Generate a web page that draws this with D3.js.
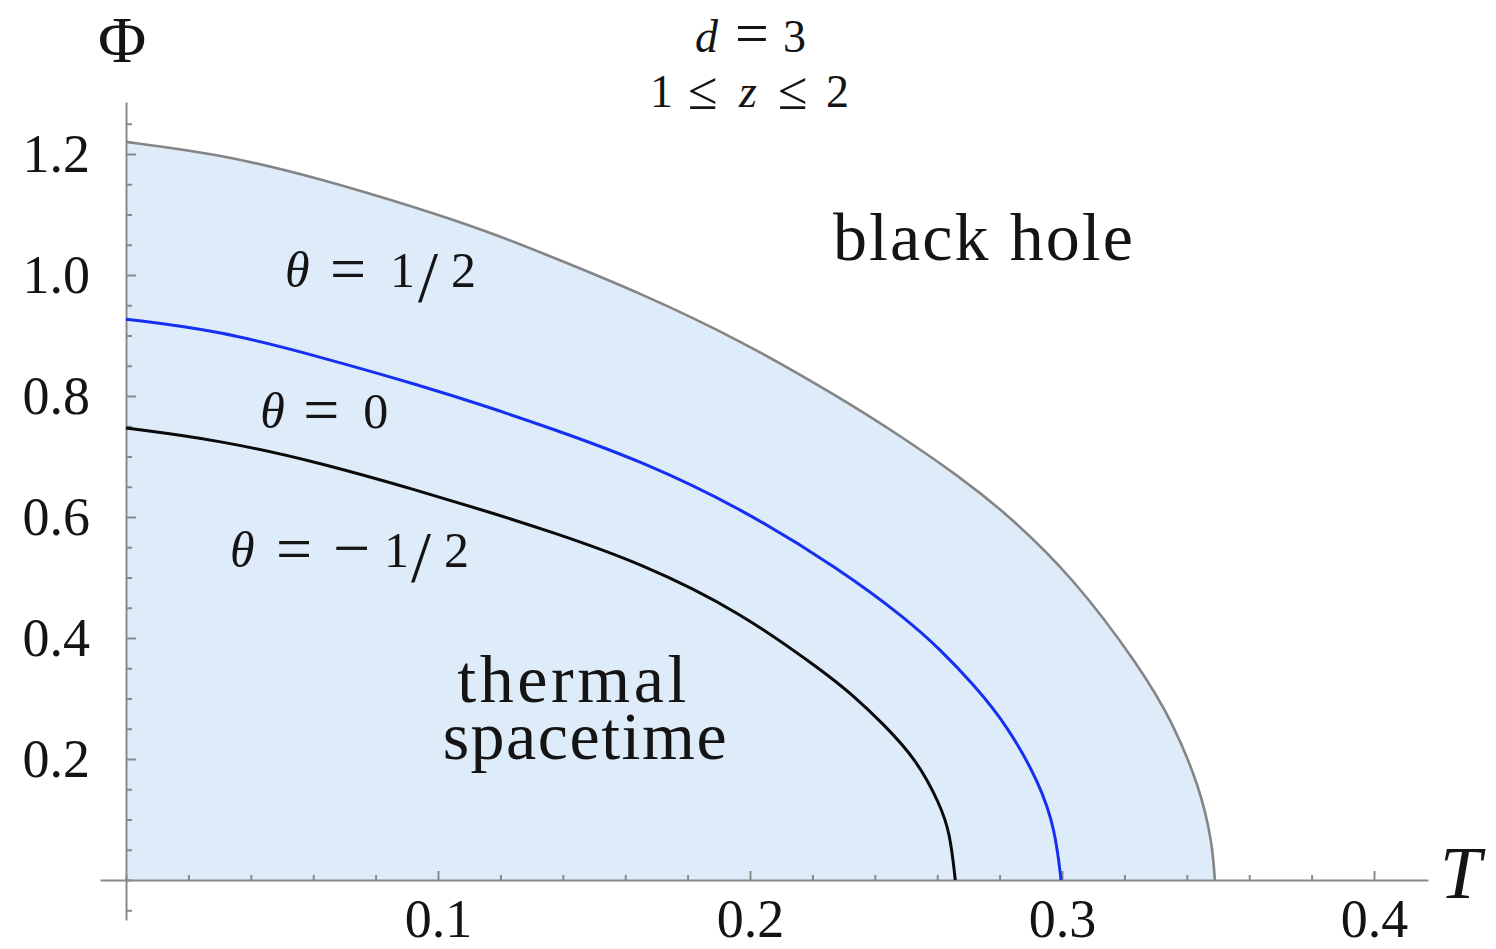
<!DOCTYPE html>
<html>
<head>
<meta charset="utf-8">
<script src="https://cdn.jsdelivr.net/npm/d3@7"></script>
<style>
  body { margin: 0; background: #fff; }
  svg { display: block; }
  text { font-family: "Liberation Serif", "Times New Roman", serif; fill: #141414; }
</style>
</head>
<body>
<svg id="chart" width="1496" height="949"></svg>
<script>
// Phase boundaries Φ(T) between thermal spacetime and black hole, d = 3, 1 ≤ z ≤ 2
// θ = 1/2 : outer boundary (grey), edge of the shaded thermal region
const boundaryThetaHalf = [
  [0.000, 1.220], [0.030, 1.200], [0.062, 1.160], [0.094, 1.110], [0.116, 1.072],
  [0.136, 1.031], [0.165, 0.970], [0.197, 0.892], [0.229, 0.797], [0.250, 0.728],
  [0.267, 0.667], [0.282, 0.607], [0.3035, 0.501], [0.325, 0.352], [0.3356, 0.260],
  [0.3442, 0.152], [0.3481, 0.064], [0.349, 0.000]
];
// θ = 0 (blue)
const boundaryThetaZero = [
  [0.000, 0.927], [0.030, 0.908], [0.062, 0.865], [0.094, 0.818], [0.116, 0.782],
  [0.136, 0.747], [0.165, 0.693], [0.197, 0.615], [0.229, 0.513], [0.250, 0.432],
  [0.261, 0.381], [0.2715, 0.324], [0.2824, 0.256], [0.2929, 0.159], [0.2978, 0.083],
  [0.2997, 0.000]
];
// θ = -1/2 (black)
const boundaryThetaNegHalf = [
  [0.000, 0.747], [0.030, 0.727], [0.062, 0.690], [0.094, 0.643], [0.116, 0.609],
  [0.136, 0.576], [0.165, 0.524], [0.197, 0.443], [0.2247, 0.340], [0.2321, 0.309],
  [0.2426, 0.259], [0.2535, 0.198], [0.2609, 0.125], [0.2641, 0.078], [0.2658, 0.000]
];

// Tick values
const xMajorTicks = [0.1, 0.2, 0.3, 0.4];
const xMinorTicks = [0, 0.02, 0.04, 0.06, 0.08, 0.12, 0.14, 0.16, 0.18, 0.22, 0.24,
                     0.26, 0.28, 0.32, 0.34, 0.36, 0.38];
const yMajorTicks = [0.2, 0.4, 0.6, 0.8, 1.0, 1.2];
const yMinorTicks = [-0.05, 0, 0.05, 0.1, 0.15, 0.25, 0.3, 0.35, 0.45, 0.5, 0.55,
                     0.65, 0.7, 0.75, 0.85, 0.9, 0.95, 1.05, 1.1, 1.15, 1.25];
// Extent of the drawn axis lines (data units)
const xAxisExtent = [-0.0083, 0.4173];
const yAxisExtent = [-0.066, 1.286];

const svg = d3.select("#chart");
const x = d3.scaleLinear().domain([0, 0.4]).range([126, 1374]);
const y = d3.scaleLinear().domain([0, 1.2]).range([880, 154]);

const axisGrey = "#8a8a8a";

// Shaded thermal region under the outer boundary
const curve = d3.curveBasis;
svg.append("path")
  .datum(boundaryThetaHalf)
  .attr("fill", "#deebf9")
  .attr("d", d3.area().x(d => x(d[0])).y0(y(0)).y1(d => y(d[1])).curve(curve));

// Axes crossing at the origin, ticks pointing inward
const xAxisScale = x.copy().domain(xAxisExtent).range(xAxisExtent.map(x));
const yAxisScale = y.copy().domain(yAxisExtent).range(yAxisExtent.map(y));

function styleAxis(g) {
  g.select(".domain").attr("stroke", axisGrey).attr("stroke-width", 2);
  g.selectAll(".tick line").attr("stroke", axisGrey).attr("stroke-width", 2);
  g.selectAll(".tick text").attr("font-size", 54).attr("fill", "#151515")
    .attr("font-family", "Liberation Serif, serif");
}

const gx = svg.append("g").attr("transform", `translate(0,${y(0)})`);
gx.append("g").call(d3.axisBottom(xAxisScale).tickValues(xMinorTicks)
    .tickSizeInner(-5).tickSizeOuter(0).tickFormat(""))
  .call(styleAxis);
gx.append("g").call(d3.axisBottom(xAxisScale).tickValues(xMajorTicks)
    .tickSizeInner(-9).tickSizeOuter(0).tickPadding(19).tickFormat(d3.format(".1f")))
  .call(styleAxis)
  .call(g => g.select(".domain").remove());

const gy = svg.append("g").attr("transform", `translate(${x(0)},0)`);
gy.append("g").call(d3.axisLeft(yAxisScale).tickValues(yMinorTicks)
    .tickSizeInner(-6).tickSizeOuter(0).tickFormat(""))
  .call(styleAxis);
gy.append("g").call(d3.axisLeft(yAxisScale).tickValues(yMajorTicks)
    .tickSizeInner(-10).tickSizeOuter(0).tickPadding(36).tickFormat(d3.format(".1f")))
  .call(styleAxis)
  .call(g => g.select(".domain").remove());

// Boundary curves
const line = d3.line().x(d => x(d[0])).y(d => y(d[1])).curve(curve);
[
  { data: boundaryThetaHalf, color: "#858585", width: 2.6 },
  { data: boundaryThetaZero, color: "#1530f0", width: 3 },
  { data: boundaryThetaNegHalf, color: "#0a0a0a", width: 3 }
].forEach(s => {
  svg.append("path").datum(s.data)
    .attr("fill", "none")
    .attr("stroke", s.color)
    .attr("stroke-width", s.width)
    .attr("d", line);
});

// Math-style labels built from separately placed pieces:
// [text, x offset, italic, font size (optional), baseline shift (optional)]
function mathLabel(x0, base, size, pieces) {
  const t = svg.append("text").attr("font-size", size);
  pieces.forEach(([s, off, italic, sz, dy]) => {
    t.append("tspan")
      .attr("x", x0 + off).attr("y", base + (dy || 0))
      .attr("font-size", sz || size)
      .attr("font-style", italic ? "italic" : "normal")
      .text(s);
  });
  return t;
}

// Title
mathLabel(695, 52, 46, [["d", 0, true], ["=", 40, false, 60, 1], ["3", 88, false]]);
mathLabel(650, 107, 46, [["1", 0, false], ["≤", 38, false, 54, 2], ["z", 89, true],
                         ["≤", 128, false, 54, 2], ["2", 176, false]]);

// Axis titles
svg.append("text").attr("x", x(0) - 4).attr("y", 62).attr("text-anchor", "middle")
  .attr("font-size", 66).text("Φ");
svg.append("text").attr("x", 1440).attr("y", 898).attr("font-size", 74)
  .attr("font-style", "italic").text("T");

// Curve labels
mathLabel(x(0.051), y(0.980), 50, [["θ", 0, true], ["=", 45, false, 64, 3], ["1", 105, false],
                                   ["/", 133, false, 72, 14], ["2", 166, false]]);
mathLabel(x(0.043), y(0.747), 50, [["θ", 0, true], ["=", 43, false, 64, 3], ["0", 103, false]]);
mathLabel(x(0.0333), y(0.517), 50, [["θ", 0, true], ["=", 46, false, 64, 3], ["−", 103, false, 66, 3],
                                    ["1", 154, false], ["/", 181, false, 72, 14], ["2", 214, false]]);

// Region labels
svg.append("text").attr("x", x(0.2266)).attr("y", y(1.025)).attr("font-size", 68)
  .attr("textLength", 300).attr("lengthAdjust", "spacing").text("black hole");
svg.append("text").attr("x", x(0.1429)).attr("y", y(0.295)).attr("font-size", 68)
  .attr("text-anchor", "middle").attr("textLength", 229).attr("lengthAdjust", "spacing").text("thermal");
svg.append("text").attr("x", x(0.147)).attr("y", y(0.200)).attr("font-size", 68)
  .attr("text-anchor", "middle").attr("textLength", 284).attr("lengthAdjust", "spacing").text("spacetime");
</script>
</body>
</html>
